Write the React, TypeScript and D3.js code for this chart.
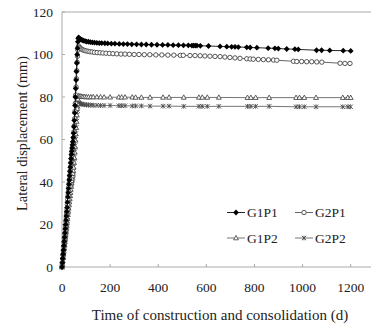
import React from "react";
import * as d3 from "d3";

const xTicks = [0, 200, 400, 600, 800, 1000, 1200];
const yTicks = [0, 20, 40, 60, 80, 100, 120];

// construction (rise) phase, shared days
const riseDays = [
  0, 1.5, 3, 4.5, 6, 7.5, 9, 10.5, 12, 13.5, 15, 16.5, 18, 19.5, 21, 22.5, 24, 25.5, 27, 28.5, 30, 31.5, 33, 34.5,
  36, 37.5, 39, 40.5, 42, 43.5, 45, 46.5, 48, 49.5, 51, 52.5, 54, 55.5, 57, 58.5, 60, 61.5, 63, 64.5, 66, 67.5, 69,
];
const riseG1P1 = [
  0, 2, 4, 6, 8, 10, 12, 14, 16, 18, 20, 22, 24, 26, 28, 30.5, 33, 35, 37, 39, 41, 43, 45, 47, 49, 51, 53, 54.5, 56,
  57.5, 59, 61, 63, 66, 69, 72.5, 76, 80, 84, 88, 92, 96, 100, 103, 106, 107.5, 108,
];
const riseG2P1 = [
  0, 1.9, 3.9, 5.8, 7.7, 9.6, 11.6, 13.5, 15.4, 17.3, 19.3, 21.2, 23.1, 25, 27, 29.4, 31.8, 33.7, 35.6, 37.6, 39.5,
  41.4, 43.3, 45.3, 47.2, 49.1, 51, 52.5, 53.9, 55.4, 56.8, 58.7, 60.7, 63.6, 66.4, 69.8, 73.2, 77, 80.9, 84.7, 88.6,
  92.4, 96.3, 99.2, 102.1, 103.5, 104,
];
const riseG1P2 = [
  0, 1.5, 3, 4.5, 6, 7.5, 8.9, 10.4, 11.9, 13.4, 14.9, 16.4, 17.9, 19.4, 20.9, 22.7, 24.6, 26.1, 27.6, 29.1, 30.5, 32,
  33.5, 35, 36.5, 38, 39.5, 40.6, 41.7, 42.8, 44, 45.4, 46.9, 49.2, 51.4, 54, 56.6, 59.6, 62.6, 65.6, 68.5, 71.5, 74.5,
  76.7, 79, 80.1, 80.5,
];
const riseG2P2 = [
  0, 1.4, 2.9, 4.3, 5.7, 7.2, 8.6, 10, 11.4, 12.9, 14.3, 15.7, 17.2, 18.6, 20, 21.8, 23.6, 25, 26.5, 27.9, 29.3, 30.7,
  32.2, 33.6, 35, 36.5, 37.9, 39, 40, 41.1, 42.2, 43.6, 45, 47.2, 49.3, 51.8, 54.3, 57.2, 60.1, 62.9, 65.8, 68.6, 71.5,
  73.6, 75.8, 76.9, 77.2,
];

// consolidation phase [day, displacement]
const g1p1: [number, number][] = [
  [72, 107.6], [76, 107.2], [80, 107], [85, 106.7], [90, 106.5], [96, 106.3], [102, 106.1], [110, 106], [118, 105.8],
  [126, 105.7], [135, 105.6], [145, 105.5], [155, 105.4], [165, 105.4], [178, 105.3], [190, 105.2], [205, 105.1],
  [220, 105.1], [238, 105], [255, 104.9], [272, 104.9], [290, 104.8], [310, 104.8], [330, 104.7], [350, 104.7],
  [372, 104.6], [395, 104.6], [418, 104.5], [440, 104.5], [462, 104.4], [484, 104.4], [505, 104.3], [525, 104.3],
  [540, 104.2], [547, 104.2], [554, 104.2], [561, 104.2], [575, 104.1], [609, 104], [657, 103.8], [685, 103.7],
  [705, 103.6], [719, 103.6], [733, 103.5], [768, 103.4], [782, 103.3], [810, 103.2], [857, 103], [885, 102.9],
  [899, 102.8], [934, 102.6], [968, 102.5], [982, 102.4], [1058, 102], [1079, 102], [1113, 101.9], [1169, 101.8], [1200, 101.7],
];

const g2p1: [number, number][] = [
  [74, 103.3], [78, 102.8], [83, 102.4], [88, 102.1], [94, 101.9], [100, 101.7], [108, 101.5],
  [116, 101.3], [125, 101.2], [135, 101], [146, 100.9], [158, 100.8], [170, 100.7], [183, 100.6], [197, 100.5],
  [212, 100.4], [228, 100.3], [245, 100.2], [262, 100.2], [280, 100.1], [300, 100], [320, 100], [342, 99.9],
  [365, 99.9], [390, 99.8], [415, 99.8], [440, 99.7], [465, 99.7], [492, 99.6], [504, 99.6], [532, 99.5], [553, 99.5],
  [574, 99.4], [594, 99.3], [615, 99.2], [636, 99.1], [657, 99], [677, 98.8], [698, 98.6], [719, 98.4], [740, 98.2],
  [768, 98], [782, 97.9], [795, 97.8], [816, 97.7], [837, 97.6], [858, 97.5], [879, 97.4], [893, 97.3], [962, 96.8],
  [976, 96.7], [996, 96.7], [1017, 96.6], [1038, 96.6], [1059, 96.5], [1080, 96.4], [1156, 95.9], [1176, 95.8], [1197, 95.8],
];

const g1p2: [number, number][] = [
  [74, 80.4], [78, 80.3], [83, 80.2], [88, 80.1], [95, 80.1], [102, 80],
  [110, 80], [120, 80], [130, 80], [145, 80], [160, 80], [175, 79.9], [200, 79.9], [236, 79.9], [248, 79.9],
  [262, 79.9], [292, 79.9], [306, 79.8], [330, 79.8], [366, 79.8], [420, 79.8], [445, 79.8], [506, 79.8],
  [569, 79.8], [583, 79.8], [604, 79.8], [652, 79.8], [771, 79.7], [785, 79.7], [805, 79.7], [861, 79.7],
  [973, 79.7], [987, 79.7], [1007, 79.7], [1056, 79.7], [1167, 79.7], [1188, 79.7], [1200, 79.7],
];

const g2p2: [number, number][] = [
  [74, 77], [78, 76.8], [83, 76.6], [88, 76.5], [95, 76.4], [102, 76.3],
  [110, 76.2], [120, 76.2], [130, 76.1], [145, 76.1], [160, 76], [175, 76], [200, 76], [236, 75.9], [248, 75.9],
  [262, 75.9], [292, 75.8], [306, 75.8], [330, 75.8], [366, 75.7], [420, 75.7], [445, 75.7], [506, 75.6],
  [569, 75.6], [583, 75.6], [604, 75.6], [652, 75.6], [771, 75.6], [785, 75.6], [805, 75.6], [861, 75.6],
  [973, 75.4], [987, 75.4], [1007, 75.4], [1056, 75.4], [1167, 75.4], [1188, 75.4], [1200, 75.4],
];

const seriesNames = ["G1P1", "G2P1", "G1P2", "G2P2"];

const FONT = "'Liberation Serif', 'Times New Roman', serif";
const TXT = "#222";

function Marker({ kind, x, y }: { kind: string; x: number; y: number }) {
  if (kind === "G1P1") {
    return <path d={`M${x},${y - 2.9}L${x + 2.9},${y}L${x},${y + 2.9}L${x - 2.9},${y}Z`} fill="#000" />;
  }
  if (kind === "G2P1") {
    return <circle cx={x} cy={y} r={2.2} fill="#fff" stroke="#444" strokeWidth={0.9} />;
  }
  if (kind === "G1P2") {
    return (
      <path d={`M${x},${y - 2.6}L${x + 2.4},${y + 1.8}L${x - 2.4},${y + 1.8}Z`} fill="#fff" stroke="#444" strokeWidth={0.85} />
    );
  }
  return (
    <path
      d={`M${x - 2.2},${y - 2.2}L${x + 2.2},${y + 2.2}M${x - 2.2},${y + 2.2}L${x + 2.2},${y - 2.2}M${x},${y - 2.4}L${x},${y + 2.4}`}
      stroke="#444"
      strokeWidth={0.85}
      fill="none"
    />
  );
}

export default function App() {
  const W = 371;
  const H = 325;
  const x0 = 62;
  const pxPerUnit = (350.7 - 62) / 1200;
  const xMax = (W - x0) / pxPerUnit;
  const x = d3.scaleLinear().domain([0, xMax]).range([x0, W]);
  const y = d3.scaleLinear().domain([0, 120]).range([267, 12]);
  const line = d3
    .line<[number, number]>()
    .x((d) => x(d[0]))
    .y((d) => y(d[1]));

  const withRise = (rise: number[], rest: [number, number][]): [number, number][] => [
    ...riseDays.map((t, i) => [t, rise[i]] as [number, number]),
    ...rest,
  ];

  const data: Record<string, [number, number][]> = {
    G1P1: withRise(riseG1P1, g1p1),
    G2P1: withRise(riseG2P1, g2p1),
    G1P2: withRise(riseG1P2, g1p2),
    G2P2: withRise(riseG2P2, g2p2),
  };
  const lineColor: Record<string, string> = { G1P1: "#111", G2P1: "#555", G1P2: "#666", G2P2: "#666" };

  const legendPos: Record<string, [number, number]> = {
    G1P1: [227, 212.5],
    G2P1: [295, 212.5],
    G1P2: [227, 238],
    G2P2: [295, 238],
  };

  return (
    <svg width={W} height={H} style={{ position: "absolute", left: 0, top: 0, background: "#fff" }} fontFamily={FONT}>
      <rect x={0} y={0} width={W} height={H} fill="#fff" />
      <line x1={x0} x2={W} y1={y(120)} y2={y(120)} stroke="#aaa" strokeWidth={1} />
      <line x1={x0} x2={W} y1={y(0)} y2={y(0)} stroke="#aaa" strokeWidth={1} />
      <line x1={x0} x2={x0} y1={y(0)} y2={y(120)} stroke="#aaa" strokeWidth={1} />
      {xTicks.map((t) => (
        <g key={"xt" + t}>
          <line x1={x(t)} x2={x(t)} y1={y(0)} y2={y(0) - 3} stroke="#aaa" />
          <text x={x(t)} y={291.5} textAnchor="middle" fontSize={13.5} fill={TXT}>
            {t}
          </text>
        </g>
      ))}
      {yTicks.map((t) => (
        <g key={"yt" + t}>
          <line x1={x0} x2={x0 + 3} y1={y(t)} y2={y(t)} stroke="#aaa" />
          <text x={53} y={y(t) + 4.5} textAnchor="end" fontSize={13.5} fill={TXT}>
            {t}
          </text>
        </g>
      ))}
      <text x={220} y={320} textAnchor="middle" fontSize={15} fill={TXT}>
        Time of construction and consolidation (d)
      </text>
      <text transform="translate(26.5,133.5) rotate(-90)" textAnchor="middle" fontSize={14.3} fill={TXT}>
        Lateral displacement (mm)
      </text>
      {["G2P2", "G1P2", "G2P1", "G1P1"].map((name) => (
        <g key={name}>
          <path d={line(data[name]) || ""} fill="none" stroke={lineColor[name]} strokeWidth={0.9} />
          {data[name].map((d, i) => (
            <Marker key={i} kind={name} x={x(d[0])} y={y(d[1])} />
          ))}
        </g>
      ))}
      {seriesNames.map((name) => {
        const [lx, ly] = legendPos[name];
        return (
          <g key={"lg" + name}>
            <line x1={lx} x2={lx + 18} y1={ly} y2={ly} stroke={lineColor[name]} strokeWidth={0.9} />
            <Marker kind={name} x={lx + 9} y={ly} />
            <text x={lx + 20} y={ly + 4.7} fontSize={13.5} fill={TXT}>
              {name}
            </text>
          </g>
        );
      })}
    </svg>
  );
}
